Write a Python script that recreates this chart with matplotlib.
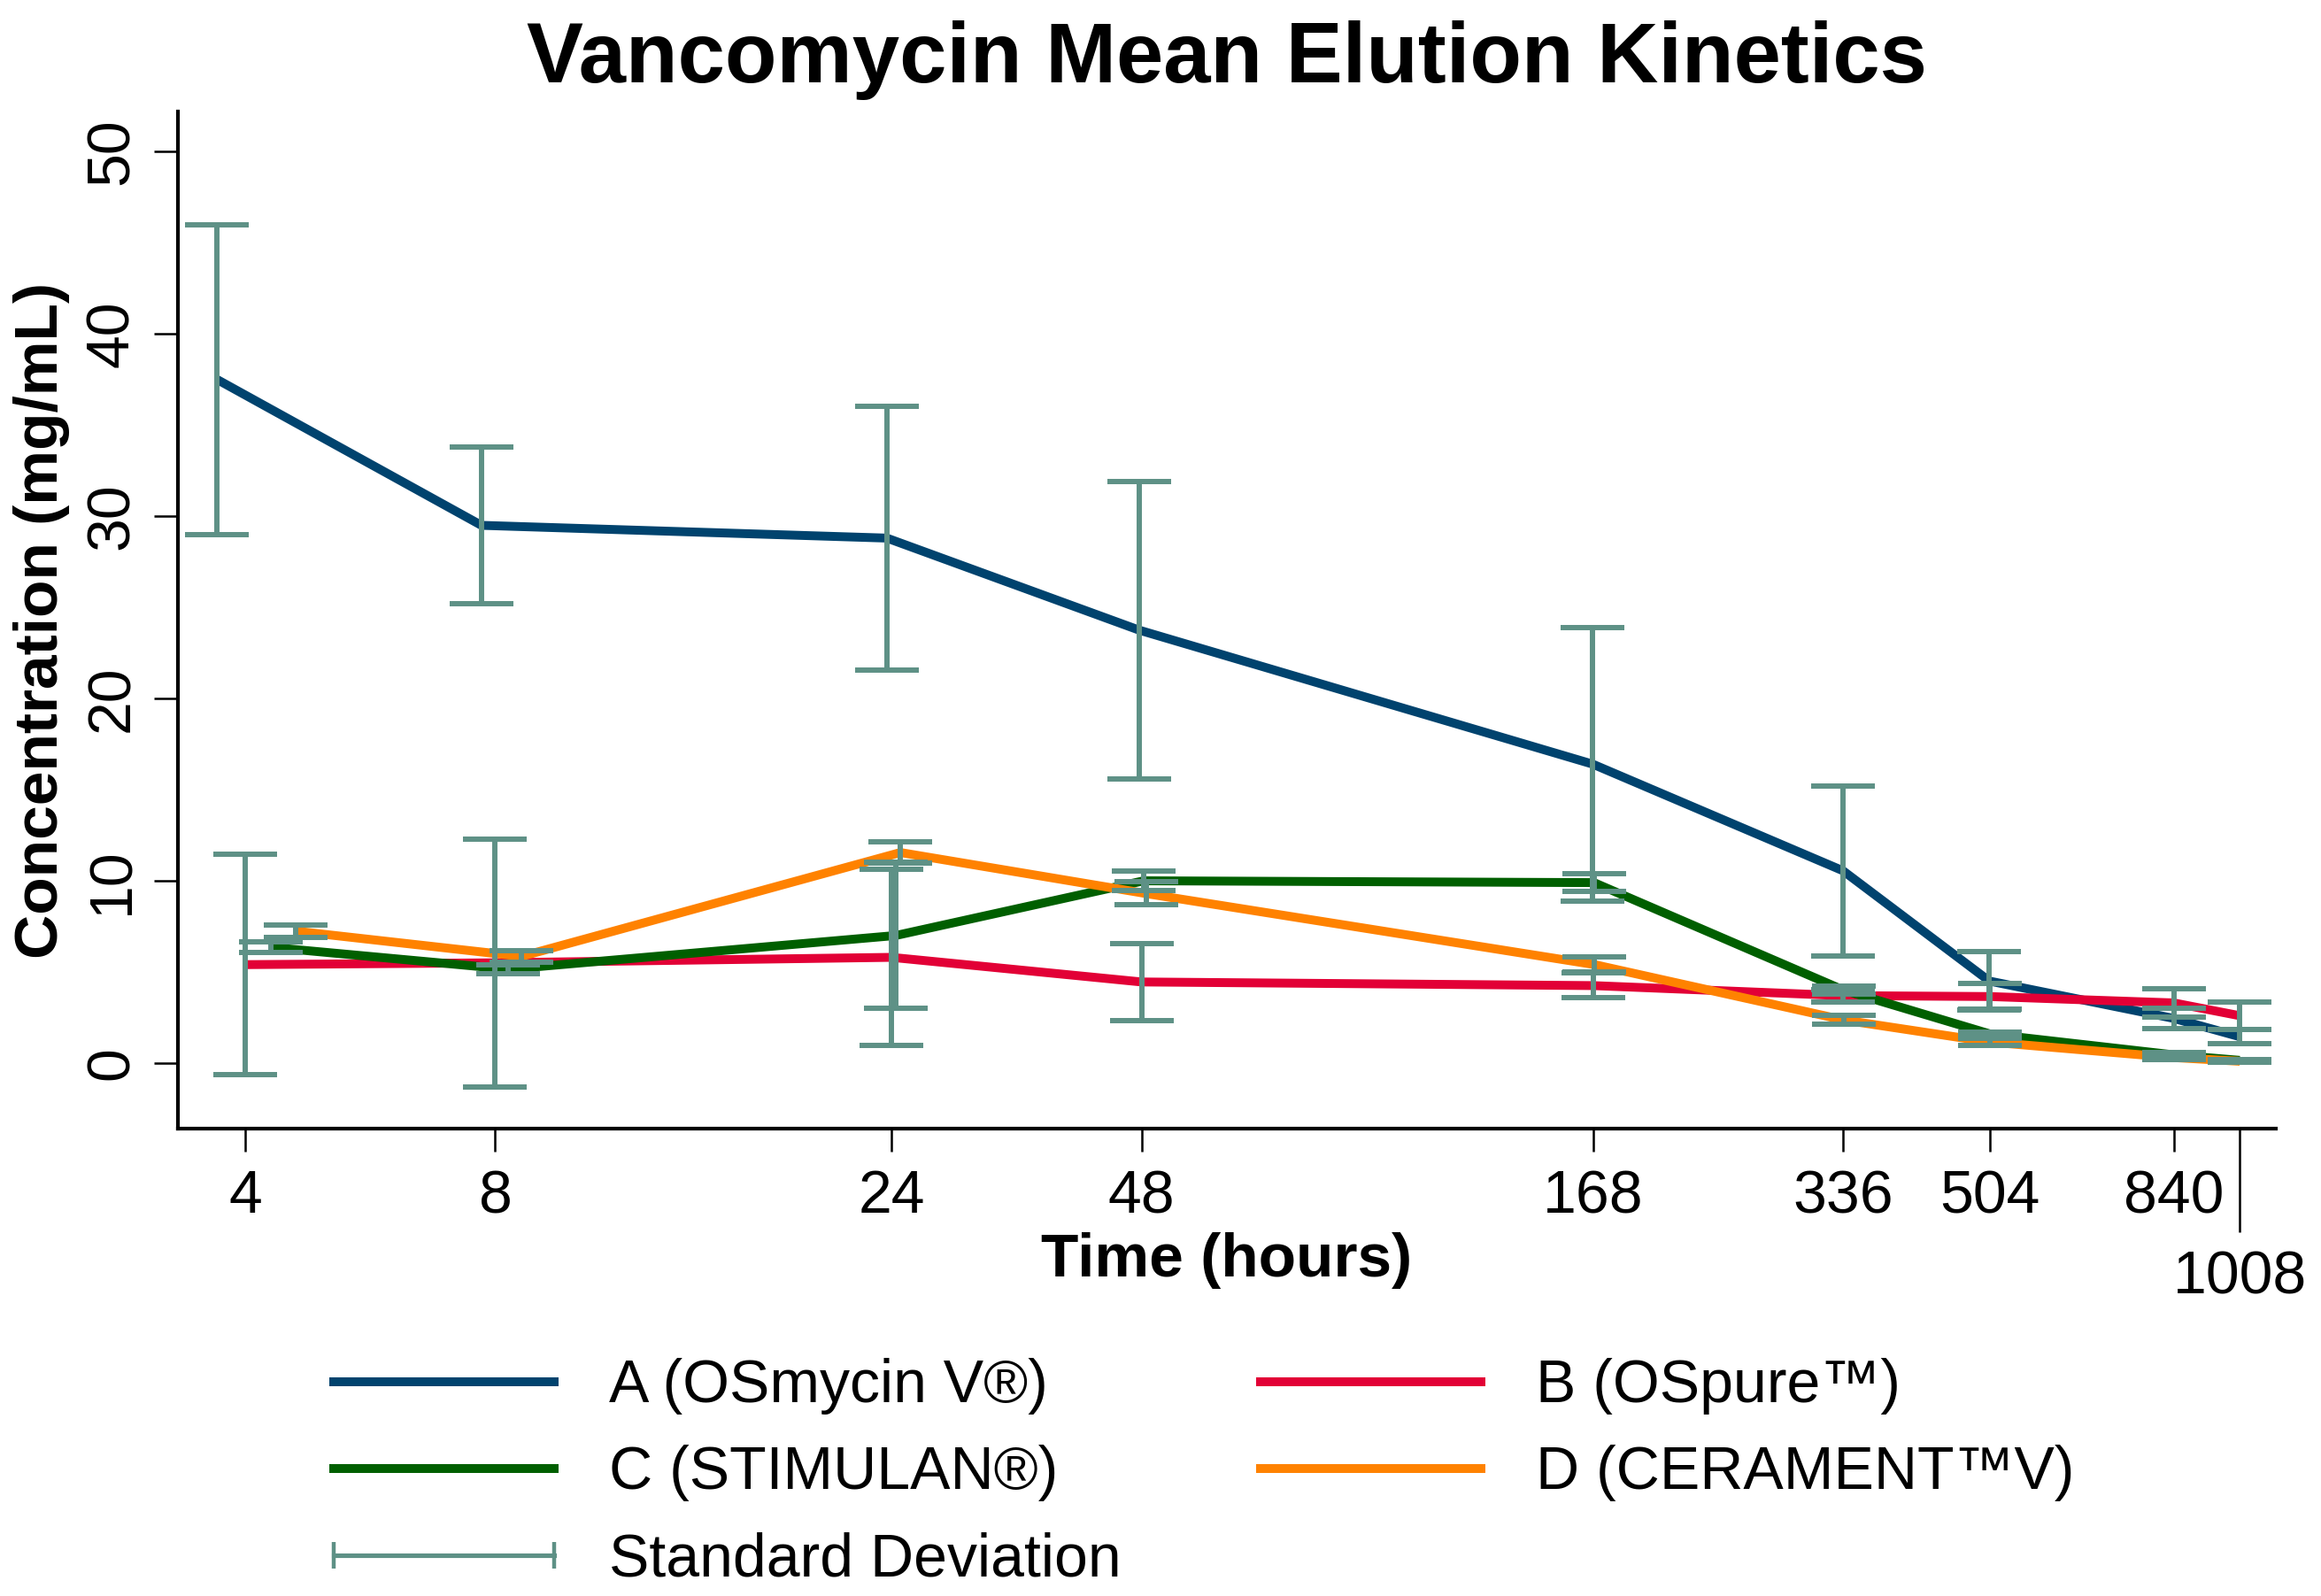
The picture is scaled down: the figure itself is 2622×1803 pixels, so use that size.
import matplotlib
matplotlib.use('Agg')
import matplotlib.pyplot as plt
from matplotlib.lines import Line2D
from matplotlib.legend_handler import HandlerBase
from matplotlib.ticker import FixedLocator, FixedFormatter

plt.rcParams['font.family'] = ['Liberation Sans', 'DejaVu Sans']

# time points (hours)
hours = [4, 8, 24, 48, 168, 336, 504, 840, 1008]

# mean concentration (mg/mL) and SD per group
a_mean = [37.5, 29.5, 28.8, 23.75, 16.4, 10.55, 4.5, 2.45, 1.45]
a_sd = [8.5, 4.3, 7.25, 8.15, 7.5, 4.67, 1.6, 0.56, 0.38]
b_mean = [5.4, 5.5, 5.8, 4.45, 4.25, 3.7, 3.65, 3.3, 2.6]
b_sd = [6.05, 6.8, 4.85, 2.1, 0.68, 0.35, 0.7, 0.76, 0.76]
c_mean = [6.35, 5.15, 7.0, 10.0, 9.9, 4.0, 1.6, 0.45, 0.15]
c_sd = [0.29, 0.23, 4.0, 0.54, 0.5, 0.2, 0.1, 0.12, 0.05]
d_mean = [7.24, 5.85, 11.55, 9.3, 5.4, 2.36, 1.15, 0.3, 0.1]
d_sd = [0.33, 0.3, 0.57, 0.63, 0.42, 0.24, 0.2, 0.12, 0.05]

labels = ['A (OSmycin V®)', 'B (OSpure™)', 'C (STIMULAN®)', 'D (CERAMENT™V)']
shift = [-0.3, 0.0, 0.3, 0.6]   # small time offset so bars don't overlap
colors = ['#00436e', '#e20036', '#005f00', '#ff8200']
sd_color = '#5e9186'

means = [a_mean, b_mean, c_mean, d_mean]
sds = [a_sd, b_sd, c_sd, d_sd]

fig = plt.figure(figsize=(26.22, 18.03), dpi=100)
ax = fig.add_axes([0.0767, 0.2928, 0.9039, 0.6373])

for i in range(4):
    x = [h + shift[i] for h in hours]
    ax.plot(x, means[i], color=colors[i], lw=7.2, zorder=2, solid_capstyle='butt')
    ax.errorbar(x, means[i], yerr=sds[i], fmt='none', ecolor=sd_color,
                elinewidth=4.3, capsize=26, capthick=4.3, zorder=3)

ax.set_xscale('log')
ax.set_xlim(3.32, 1115)
ax.set_ylim(-3.6, 52.2)

# 1008 gets its own long tick (minor) so the label drops below the others
ax.xaxis.set_major_locator(FixedLocator(hours[:-1]))
ax.xaxis.set_major_formatter(FixedFormatter([str(h) for h in hours[:-1]]))
ax.xaxis.set_minor_locator(FixedLocator([hours[-1]]))
ax.xaxis.set_minor_formatter(FixedFormatter([str(hours[-1])]))
ax.set_yticks([0, 10, 20, 30, 40, 50])

ax.tick_params(axis='x', which='major', length=18.7, width=1.8, pad=14, labelsize=49)
ax.tick_params(axis='x', which='minor', length=84, width=1.8, pad=14, labelsize=49)
ax.tick_params(axis='y', length=19.4, width=1.8, pad=11, labelsize=49, labelrotation=90)
for t in ax.get_yticklabels():
    t.set_va('center')

for s in ['top', 'right']:
    ax.spines[s].set_visible(False)
for s in ['left', 'bottom']:
    ax.spines[s].set_linewidth(3)

ax.set_title('Vancomycin Mean Elution Kinetics', fontsize=69, fontweight='bold', pad=24)
ax.set_xlabel('Time (hours)', fontsize=50, fontweight='bold', va='center')
ax.xaxis.set_label_coords(0.5, -0.13)
ax.set_ylabel('Concentration (mg/mL)', fontsize=50, fontweight='bold', va='center')
ax.yaxis.set_label_coords(-0.065, 0.5)


class SDHandler(HandlerBase):
    def create_artists(self, legend, orig_handle, xdescent, ydescent,
                       width, height, fontsize, trans):
        y = height / 2 - ydescent
        x0, x1 = -xdescent, -xdescent + width
        bar = Line2D([x0, x1], [y, y], color=sd_color, lw=3.7, transform=trans)
        caps = Line2D([x0, x1], [y, y], ls='none', marker='|', ms=22,
                      mew=3.2, color=sd_color, transform=trans)
        return [bar, caps]


line_h = [Line2D([], [], color=c, lw=7.2) for c in colors]
sd_h = Line2D([], [], color=sd_color)
# column-major fill: A, C, SD in first column; B, D in second
handles = [line_h[0], line_h[2], sd_h, line_h[1], line_h[3]]
names = [labels[0], labels[2], 'Standard Deviation', labels[1], labels[3]]
fig.legend(handles, names, loc='upper left', bbox_to_anchor=(0.1437, 0.149),
           ncol=2, frameon=False, fontsize=49, handlelength=3.66,
           handletextpad=0.92, columnspacing=2.3, labelspacing=0.5,
           borderpad=0, borderaxespad=0,
           handler_map={sd_h: SDHandler()})

fig.savefig('out.png', dpi=100)
